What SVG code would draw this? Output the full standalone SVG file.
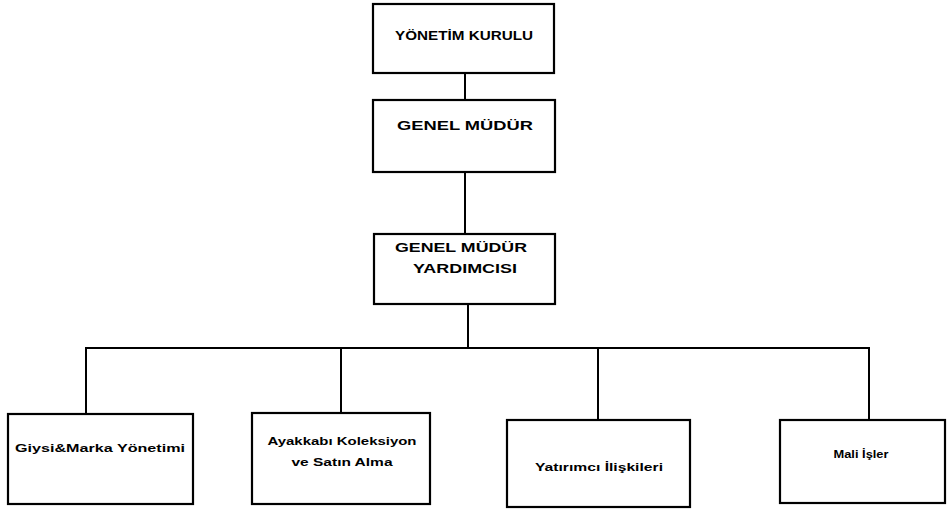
<svg xmlns="http://www.w3.org/2000/svg" width="947" height="511" viewBox="0 0 947 511">
<style>
.box{fill:#fff;stroke:#000;stroke-width:2.2}
.t{font-family:"Liberation Sans",Arial,sans-serif;font-weight:bold;fill:#000;text-anchor:middle}
.u{font-size:13px}
.l{font-size:11.5px}
.c{fill:none;stroke:#000;stroke-width:2}
</style>
<rect width="947" height="511" fill="#fff"/>
<g id="connectors">
<line class="c" x1="465" y1="73" x2="465" y2="100"/>
<line class="c" x1="465" y1="172" x2="465" y2="234"/>
<line class="c" x1="468" y1="304" x2="468" y2="348"/>
<polyline class="c" points="86,414 86,348 869,348 869,420"/>
<line class="c" x1="341" y1="348" x2="341" y2="413"/>
<line class="c" x1="598" y1="348" x2="598" y2="420"/>
</g>
<g id="yonetim-kurulu">
<rect class="box" x="373" y="4" width="181" height="69"/>
<text class="t u" x="464" y="40" textLength="138" lengthAdjust="spacingAndGlyphs">YÖNETİM KURULU</text>
</g>
<g id="genel-mudur">
<rect class="box" x="373" y="100" width="182" height="72"/>
<text class="t u" x="465" y="130" textLength="136" lengthAdjust="spacingAndGlyphs">GENEL MÜDÜR</text>
</g>
<g id="genel-mudur-yardimcisi">
<rect class="box" x="374" y="234" width="181" height="70"/>
<text class="t u" x="461" y="252" textLength="132" lengthAdjust="spacingAndGlyphs">GENEL MÜDÜR</text>
<text class="t u" x="465" y="273" textLength="104" lengthAdjust="spacingAndGlyphs">YARDIMCISI</text>
</g>
<g id="giysi-marka">
<rect class="box" x="8" y="414" width="185" height="90"/>
<text class="t l" x="100" y="452" textLength="170" lengthAdjust="spacingAndGlyphs">Giysi&amp;Marka Yönetimi</text>
</g>
<g id="ayakkabi">
<rect class="box" x="252" y="413" width="178" height="91"/>
<text class="t l" x="342" y="445" textLength="149" lengthAdjust="spacingAndGlyphs">Ayakkabı Koleksiyon</text>
<text class="t l" x="342" y="466" textLength="101" lengthAdjust="spacingAndGlyphs">ve Satın Alma</text>
</g>
<g id="yatirimci">
<rect class="box" x="507" y="420" width="183" height="87"/>
<text class="t l" x="599" y="471" textLength="128" lengthAdjust="spacingAndGlyphs">Yatırımcı İlişkileri</text>
</g>
<g id="mali-isler">
<rect class="box" x="780" y="420" width="165" height="83"/>
<text class="t l" x="861" y="458" textLength="55" lengthAdjust="spacingAndGlyphs">Mali İşler</text>
</g>
</svg>
